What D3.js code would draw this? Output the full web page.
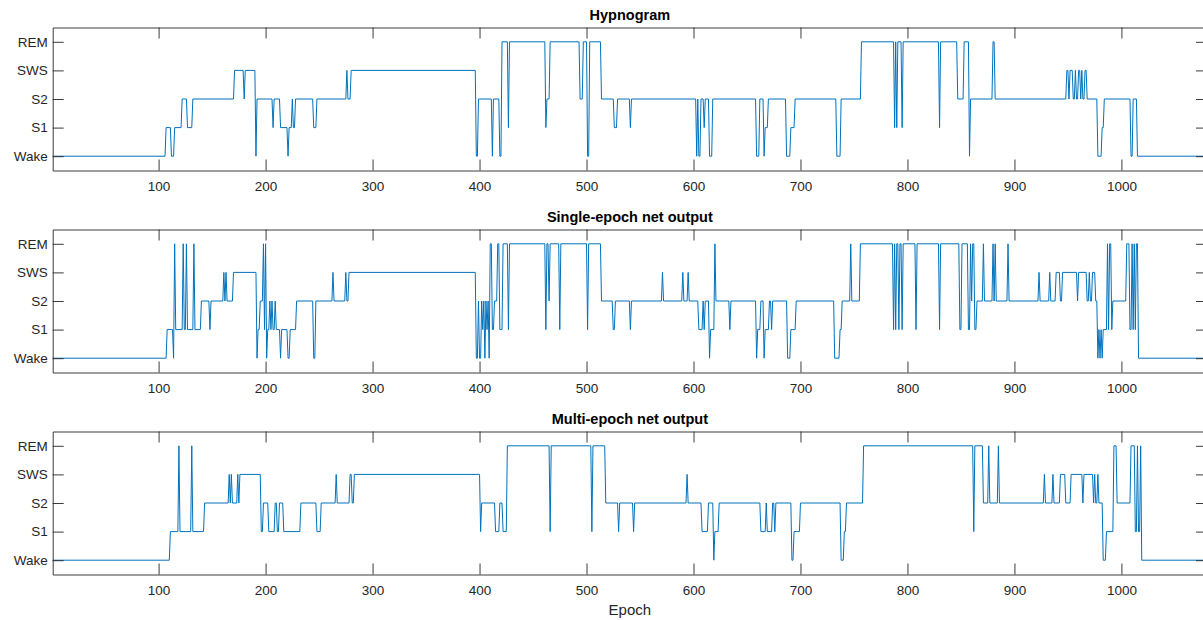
<!DOCTYPE html>
<html>
<head>
<meta charset="utf-8">
<script src="https://cdn.jsdelivr.net/npm/d3@7"></script>
<style>
  body { margin: 0; background: #fff; }
  svg { display: block; }
  text { font-family: "Liberation Sans", Arial, Helvetica, sans-serif; fill: #262626; }
</style>
</head>
<body>
<svg id="chart" width="1203" height="620"></svg>
<script>
// Sleep stages, bottom to top
const stageLabels = ["Wake", "S1", "S2", "SWS", "REM"];
const xTickValues = [100, 200, 300, 400, 500, 600, 700, 800, 900, 1000];
const panelTitles = ["Hypnogram", "Single-epoch net output", "Multi-epoch net output"];
const epochCount = 1080;

// Each run: [first epoch, stage index]; a run lasts until the next run starts
const hypnogramRuns = [
  [1,0],[107,1],[112,0],[115,1],[122,2],[127,1],[132,2],[171,3],[180,2],[181,3],[191,0],[192,2],
  [207,1],[208,2],[214,1],[221,0],[222,1],[225,2],[226,1],[228,2],[245,1],[248,2],[276,3],[277,2],[280,3],
  [397,0],[399,2],[412,0],[413,2],[419,0],[421,4],[427,1],[428,4],[462,1],[463,2],[466,4],[494,2],
  [497,4],[501,0],[503,4],[514,2],[526,1],[529,2],[541,1],[542,2],[603,0],[604,2],[605,0],[607,2],
  [610,1],[611,2],[615,0],[618,2],[659,0],[662,2],[666,0],[667,1],[670,2],[687,0],[691,1],[695,2],
  [734,0],[738,2],[757,4],[788,1],[789,4],[790,1],[791,4],[795,1],[796,4],[830,1],[831,4],[847,2],
  [853,4],[858,0],[859,2],[880,4],[882,2],[949,3],[951,2],[952,3],[955,2],[957,3],[958,2],[960,3],
  [962,2],[963,3],[964,2],[966,3],[968,2],[978,0],[982,1],[984,2],[1009,0],[1011,2],[1015,0]
];

const singleEpochRuns = [
  [1,0],[108,1],[114,0],[115,4],[116,1],[123,4],[124,1],[126,4],[127,1],[133,4],[134,1],[140,2],
  [148,1],[149,2],[161,3],[162,2],[163,3],[164,2],[170,3],[192,0],[193,1],[195,2],[198,4],[199,1],
  [200,4],[201,0],[202,1],[204,2],[205,1],[206,2],[207,1],[209,2],[210,1],[214,0],[215,1],[221,0],
  [223,1],[229,2],[245,0],[247,2],[263,3],[264,2],[275,3],[276,2],[278,3],
  [397,0],[399,2],[400,0],[402,2],[403,1],[404,2],[405,0],[406,2],[407,1],[408,2],[409,0],[410,4],
  [412,1],[414,2],[417,4],[419,1],[422,4],[427,1],[428,4],[462,1],[463,4],[465,2],[466,4],[475,1],
  [476,4],[501,1],[502,4],[514,2],[525,1],[527,2],[541,1],[542,2],[571,3],[572,2],[590,3],[591,2],
  [595,3],[596,2],[605,1],[609,2],[610,1],[611,2],[615,0],[616,1],[620,4],[621,2],[634,1],[635,2],
  [659,0],[660,1],[663,2],[666,0],[667,1],[671,2],[673,1],[674,2],[688,0],[691,1],[696,2],
  [732,0],[737,1],[739,2],[747,4],[748,2],[756,4],[787,1],[788,4],[789,1],[790,4],[792,1],[793,4],
  [795,1],[796,4],[808,1],[809,4],[830,1],[831,4],[849,1],[851,4],[857,1],[859,4],[860,2],[861,4],
  [863,1],[865,2],[871,4],[872,2],[880,4],[881,2],[882,4],[883,2],[894,4],[895,2],[923,3],[924,2],
  [933,3],[934,2],[939,3],[943,2],[945,3],[959,2],[960,3],[968,2],[970,3],[971,2],[973,3],[976,2],
  [978,0],[979,1],[980,0],[981,1],[982,0],[983,1],[987,4],[988,1],[989,4],[991,1],[992,2],[1005,4],
  [1008,1],[1010,4],[1011,1],[1012,4],[1013,1],[1014,4],[1016,0]
];

const multiEpochRuns = [
  [1,0],[111,1],[119,4],[120,1],[131,4],[132,1],[143,2],[166,3],[167,2],[168,3],[169,2],[174,3],
  [175,2],[176,3],[196,1],[198,2],[203,1],[209,2],[211,1],[213,2],[217,1],[233,2],[248,1],[252,2],
  [266,3],[267,2],[279,3],[281,2],[283,3],
  [401,1],[402,2],[415,1],[419,2],[422,1],[426,4],[466,1],[467,4],[505,1],[506,4],[518,2],[530,1],
  [531,2],[544,1],[545,2],[594,3],[595,2],[608,1],[614,2],[619,0],[620,1],[624,2],[663,1],[668,2],
  [669,1],[674,2],[676,1],[677,2],[692,0],[694,1],[700,2],
  [738,0],[741,1],[743,2],[759,4],[862,1],[863,4],[871,2],[876,4],[877,2],[885,4],[886,2],[928,3],
  [929,2],[936,3],[937,2],[943,3],[948,2],[953,3],[964,2],[965,3],[974,2],[975,3],[976,2],[978,3],
  [979,2],[983,0],[986,1],[993,4],[996,2],[1009,4],[1013,1],[1015,4],[1016,1],[1018,4],[1019,0]
];

const panelRuns = [hypnogramRuns, singleEpochRuns, multiEpochRuns];

// Turn runs into per-epoch plot vertices (first and last epoch of each run)
function runsToPoints(runs, lastEpoch) {
  const pts = [];
  runs.forEach(([start, stage], i) => {
    const end = i + 1 < runs.length ? runs[i + 1][0] - 1 : lastEpoch;
    pts.push([start, stage]);
    if (end > start) pts.push([end, stage]);
  });
  return pts;
}

const svg = d3.select("#chart");
const plotLeft = 52.7, plotRight = 1207;
const panelTops = [27.5, 229.5, 431.5];
const panelHeight = 143;
const tickLen = 11;
const axisColor = "#262626";

const x = d3.scaleLinear().domain([1, epochCount]).range([plotLeft, plotRight]);

svg.append("defs").selectAll("clipPath")
  .data(panelTops)
  .join("clipPath")
  .attr("id", (d, i) => "clip" + i)
  .append("rect")
  .attr("x", plotLeft).attr("y", d => d)
  .attr("width", plotRight - plotLeft).attr("height", panelHeight);

panelTops.forEach((top, i) => {
  const bottom = top + panelHeight;
  const y = d3.scaleLinear().domain([-0.5, 4.5]).range([bottom, top]);
  const g = svg.append("g");

  // Trace
  const line = d3.line().x(d => x(d[0])).y(d => y(d[1]));
  g.append("path")
    .datum(runsToPoints(panelRuns[i], epochCount))
    .attr("clip-path", `url(#clip${i})`)
    .attr("fill", "none")
    .attr("stroke", "#0072BD")
    .attr("stroke-width", 1)
    .attr("stroke-linejoin", "miter")
    .attr("d", line);

  // Box axes with inward ticks
  const styleAxis = sel => {
    sel.selectAll("path.domain").attr("stroke", axisColor).attr("stroke-width", 0.9);
    sel.selectAll(".tick line").attr("stroke", axisColor).attr("stroke-width", 0.9);
    sel.selectAll(".tick text").attr("fill", axisColor)
      .style("font-size", "13.5px")
      .style("font-family", '"Liberation Sans", Arial, Helvetica, sans-serif');
  };

  g.append("g").attr("transform", `translate(0,${bottom})`)
    .call(d3.axisBottom(x).tickValues(xTickValues).tickFormat(d3.format("d"))
      .tickSizeInner(-tickLen).tickSizeOuter(0).tickPadding(10.5))
    .call(styleAxis);
  g.append("g").attr("transform", `translate(0,${top})`)
    .call(d3.axisTop(x).tickValues(xTickValues).tickSizeInner(-tickLen).tickSizeOuter(0).tickFormat(""))
    .call(styleAxis);
  g.append("g").attr("transform", `translate(${plotLeft},0)`)
    .call(d3.axisLeft(y).tickValues([0, 1, 2, 3, 4]).tickFormat(k => stageLabels[k])
      .tickSizeInner(-tickLen).tickSizeOuter(0).tickPadding(5))
    .call(styleAxis);
  g.append("g").attr("transform", `translate(${plotRight},0)`)
    .call(d3.axisRight(y).tickValues([0, 1, 2, 3, 4]).tickSizeInner(-tickLen).tickSizeOuter(0).tickFormat(""))
    .call(styleAxis);

  // Panel title
  g.append("text")
    .attr("x", (plotLeft + plotRight) / 2)
    .attr("y", top - 7.5)
    .attr("text-anchor", "middle")
    .style("font-size", "14.5px")
    .style("font-weight", "bold")
    .style("fill", "#000")
    .text(panelTitles[i]);
});

svg.append("text")
  .attr("x", (plotLeft + plotRight) / 2)
  .attr("y", 615)
  .attr("text-anchor", "middle")
  .style("font-size", "15px")
  .text("Epoch");
</script>
</body>
</html>
